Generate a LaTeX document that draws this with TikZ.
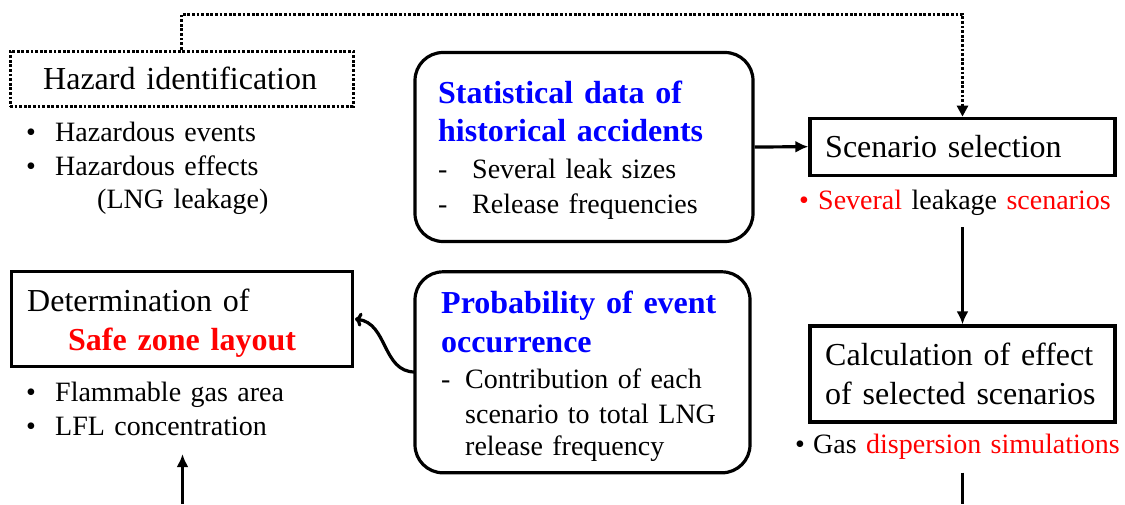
\documentclass[tikz,border=0pt]{standalone}
\usepackage{fontspec}
\setmainfont{Liberation Serif}[WordSpace=1.35]
\usetikzlibrary{arrows.meta}
\definecolor{hdblue}{RGB}{0,0,255}
\definecolor{hdred}{RGB}{255,0,0}
\tikzset{
  boxframe/.style={draw=black, line width=3.2pt, inner sep=0pt},
  roundframe/.style={boxframe, rounded corners=28pt},
  dotframe/.style={draw=black, line width=3pt, dash pattern=on 2.8pt off 1.8pt, inner sep=0pt},
  head/.style={anchor=base west, inner sep=0pt, font=\fontsize{32}{38}\selectfont},
  body/.style={anchor=base west, inner sep=0pt, font=\fontsize{28}{34}\selectfont},
  bluehead/.style={anchor=base west, inner sep=0pt, font=\fontsize{32}{38}\selectfont\bfseries, text=hdblue},
  redhead/.style={anchor=base west, inner sep=0pt, font=\fontsize{32}{38}\selectfont\bfseries, text=hdred},
  flow/.style={line width=3.2pt, -{Latex[length=13pt,width=12pt]}},
  plainline/.style={line width=3.2pt},
  dotflow/.style={line width=3pt, dash pattern=on 2.8pt off 1.8pt, -{Triangle[length=11pt,width=11pt]}},
  bendflow/.style={line width=3.2pt, -{To[length=7pt,width=14pt]}},
}
\begin{document}
\begin{tikzpicture}[x=1pt,y=-1pt]
\useasboundingbox (0,0) rectangle (1125,504);

% frames
\node[dotframe, minimum width=343pt, minimum height=55pt] (haz) at (181.5,78.5) {};
\node[roundframe, minimum width=338pt, minimum height=189pt] (stat) at (584,147) {};
\node[boxframe, minimum width=305pt, minimum height=57pt] (scen) at (962.5,146.7) {};
\node[boxframe, minimum width=305pt, minimum height=96pt] (calc) at (962.5,374) {};
\node[boxframe, minimum width=341pt, minimum height=95pt] (det) at (182.3,319.3) {};
\node[roundframe, minimum width=335pt, minimum height=201pt] (prob) at (582.5,372.3) {};

% hazard identification
\node[head] (hazt) at (43,89) {Hazard identification};
\node[body] (hzb1) at (26,141.7) {•};
\node[body] (hzt1) at (55,141.7) {Hazardous events};
\node[body] (hzb2) at (26,175) {•};
\node[body] (hzt2) at (55,175) {Hazardous effects};
\node[body] (hzt3) at (97,208) {(LNG leakage)};

% statistical data
\node[bluehead] (stt1) at (438,103) {Statistical data of};
\node[bluehead] (stt2) at (438,141.7) {historical accidents};
\node[body] (std1) at (438,178) {-};
\node[body] (sts1) at (472,178) {Several leak sizes};
\node[body] (std2) at (438,213) {-};
\node[body] (sts2) at (472,213) {Release frequencies};

% scenario selection
\node[head] (scnt) at (825,157) {Scenario selection};
\node[body, text=hdred] (scnb) at (799,209) {•};
\node[body] (scns) at (818,209) {{\color{hdred}Several} leakage {\color{hdred}scenarios}};

% effect calculation
\node[head] (clt1) at (825,365) {Calculation of effect};
\node[head] (clt2) at (825,404) {of selected scenarios};
\node[body] (clb) at (795,453) {•};
\node[body] (cls) at (813,453) {Gas {\color{hdred}dispersion simulations}};

% safe zone layout
\node[head] (dtt1) at (27,311) {Determination of};
\node[redhead] (dtt2) at (68,350) {Safe zone layout};
\node[body] (dtb1) at (26,401.7) {•};
\node[body] (dts1) at (55,401.7) {Flammable gas area};
\node[body] (dtb2) at (26,435) {•};
\node[body] (dts2) at (55,435) {LFL concentration};

% probability of occurrence
\node[bluehead] (prt1) at (441,313) {Probability of event};
\node[bluehead] (prt2) at (441,352) {occurrence};
\node[body] (prd) at (441,388) {-};
\node[body] (prs1) at (465,388) {Contribution of each};
\node[body] (prs2) at (465,423) {scenario to total LNG};
\node[body] (prs3) at (465,455) {release frequency};

% connector anchors
\coordinate (top) at (0,14);
\coordinate (scnout) at (962.5,227);
\coordinate (clout) at (962.5,472.7);
\coordinate (clend) at (962.5,504);
\coordinate (dtin) at (182.5,454);
\coordinate (dtstart) at (182.5,504);
\coordinate (prout) at (415,372);
\coordinate (dtside) at (355,319);

% connectors
\draw[dotflow] (haz.north) -- (haz.north |- top) -| (scen.north);
\draw[flow] (stat.east) -- (scen.west);
\draw[flow] (scnout) -- (calc.north);
\draw[plainline] (clout) -- (clend);
\draw[flow] (dtstart) -- (dtin);
\draw[bendflow] (prout) .. controls (382,372) and (388,323) .. (dtside);
\end{tikzpicture}
\end{document}
